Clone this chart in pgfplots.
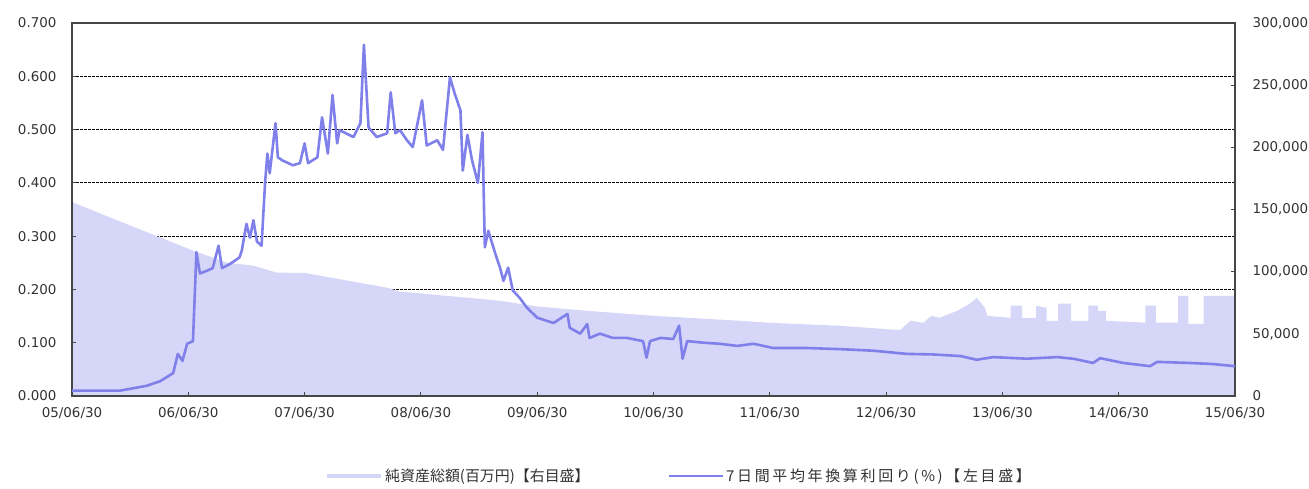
\documentclass[border=0pt]{standalone}
\usepackage{fontspec}
\setmainfont{DejaVu Sans}
\newfontfamily\jp{Noto Sans CJK JP}
\newfontfamily\jpw[LetterSpace=18]{Noto Sans CJK JP}
\usepackage{pgfplots}
\pgfplotsset{compat=1.18}

\definecolor{areaC}{RGB}{214,214,248}
\definecolor{lineC}{RGB}{128,128,234}
\definecolor{frameC}{RGB}{70,70,70}
\definecolor{txtC}{RGB}{50,50,50}

% net assets (million yen), right scale; x = years since 05/06/30
\pgfplotstableread{
x v
0.00 156000
0.33 143500
0.76 127400
1.04 117000
1.33 107300
1.56 104800
1.76 99200
2.00 99000
2.71 87100
2.82 84000
3.68 76600
4.00 72000
4.43 68500
5.00 64500
5.74 60500
6.00 58900
6.60 56500
7.12 53000
7.21 60500
7.32 58900
7.39 64500
7.46 62900
7.61 68500
7.72 74200
7.78 79000
7.85 71000
7.87 64500
8.07 62900
8.07 72600
8.17 72600
8.17 62900
8.29 62900
8.29 72600
8.38 71000
8.38 60500
8.48 60500
8.48 74200
8.59 74200
8.59 60500
8.74 60500
8.74 72600
8.82 72600
8.82 68500
8.89 68500
8.89 60500
9.23 59000
9.23 72600
9.32 72600
9.32 59000
9.51 59000
9.51 80600
9.60 80600
9.60 58000
9.73 58000
9.73 80600
10.00 80600
}\assets

% 7-day average annualised yield (%), left scale
\pgfplotstableread{
x y
0.00 0.010
0.41 0.010
0.64 0.019
0.76 0.028
0.87 0.043
0.91 0.079
0.95 0.066
0.99 0.098
1.04 0.103
1.07 0.270
1.10 0.230
1.16 0.235
1.21 0.240
1.26 0.282
1.29 0.240
1.36 0.248
1.44 0.260
1.46 0.273
1.50 0.323
1.53 0.297
1.56 0.330
1.59 0.290
1.63 0.282
1.66 0.400
1.68 0.455
1.70 0.418
1.75 0.512
1.77 0.448
1.81 0.442
1.90 0.433
1.96 0.437
2.00 0.474
2.03 0.437
2.11 0.448
2.15 0.523
2.20 0.455
2.24 0.565
2.28 0.474
2.30 0.499
2.42 0.486
2.48 0.512
2.51 0.659
2.55 0.504
2.62 0.486
2.71 0.493
2.74 0.570
2.78 0.493
2.82 0.499
2.88 0.480
2.93 0.467
3.01 0.555
3.05 0.470
3.14 0.480
3.19 0.462
3.25 0.598
3.29 0.568
3.34 0.536
3.36 0.423
3.40 0.490
3.44 0.442
3.49 0.400
3.53 0.495
3.54 0.380
3.55 0.279
3.58 0.310
3.64 0.267
3.68 0.241
3.71 0.216
3.75 0.241
3.79 0.198
3.85 0.184
3.91 0.166
4.00 0.147
4.14 0.137
4.26 0.154
4.28 0.128
4.37 0.117
4.43 0.135
4.45 0.109
4.54 0.117
4.65 0.109
4.77 0.109
4.91 0.103
4.94 0.072
4.97 0.103
5.06 0.109
5.17 0.107
5.22 0.132
5.25 0.070
5.29 0.103
5.43 0.100
5.57 0.098
5.72 0.094
5.86 0.098
6.03 0.090
6.32 0.090
6.60 0.088
6.89 0.085
7.18 0.079
7.40 0.078
7.64 0.075
7.78 0.068
7.92 0.073
8.21 0.070
8.47 0.073
8.61 0.070
8.78 0.062
8.84 0.071
9.04 0.062
9.27 0.056
9.33 0.064
9.61 0.062
9.81 0.060
10.00 0.056
}\yield

\pgfplotsset{
  base/.style={
    at={(0,0)}, anchor=south west,
    width=1163bp, height=373bp, scale only axis,
    xmin=0, xmax=10,
    tick align=inside, major tick length=4bp,
    tick style={frameC, line width=1bp},
    tick label style={font=\fontsize{13.5}{15}\selectfont, text=txtC},
  },
}

\begin{document}
\begin{tikzpicture}
% grid lines at the left scale's 0.1 steps, drawn first so the area covers them
\begin{axis}[base,
  ymin=0, ymax=0.7,
  ytick={0.1,0.2,0.3,0.4,0.5,0.6}, xtick=\empty,
  yticklabels={}, major tick length=0pt,
  axis line style={draw=none},
  ymajorgrids,
  grid style={black, line width=0.9bp, dash pattern=on 3bp off 1bp},
]
\end{axis}

% net assets, right scale
\begin{axis}[base,
  ymin=0, ymax=300000,
  axis y line*=right, axis x line=none,
  axis line style={draw=none},
  ytick={0,50000,100000,150000,200000,250000,300000},
  scaled y ticks=false,
  yticklabel style={/pgf/number format/fixed, /pgf/number format/1000 sep={,},
    /pgf/number format/assume math mode=true, anchor=west, xshift=14bp},
]
\addplot[draw=none, fill=areaC] table[x=x, y=v] {\assets} \closedcycle;
\end{axis}

% yield line, left scale, frame and legend
\begin{axis}[base,
  ymin=0, ymax=0.7,
  ytick={0,0.1,0.2,0.3,0.4,0.5,0.6,0.7},
  yticklabel style={/pgf/number format/fixed, /pgf/number format/fixed zerofill,
    /pgf/number format/precision=3, /pgf/number format/assume math mode=true, xshift=-12bp},
  ytick pos=left,
  xtick={0,1,2,3,4,5,6,7,8,9,10},
  xticklabels={05/06/30,06/06/30,07/06/30,08/06/30,09/06/30,10/06/30,11/06/30,12/06/30,13/06/30,14/06/30,15/06/30},
  xtick pos=bottom,
  xticklabel style={yshift=-8bp},
  axis line style={frameC, line width=1.3bp},
  legend columns=2,
  legend style={at={(0.5220,-0.214)}, anchor=center, draw=none, fill=none,
    font=\jp\fontsize{15}{17}\selectfont, text=txtC,
    /tikz/every even column/.append style={column sep=76bp}},
  legend image code/.code={\draw[#1] (0bp,0bp) -- (54bp,0bp);},
]
\addlegendimage{areaC, line width=4bp}
\addlegendentry{純資産総額(百万円)【右目盛】}
\addplot[lineC, line width=2.6bp, line join=round] table[x=x, y=y] {\yield};
\addlegendentry{\jpw 7日間平均年換算利回り(\%)【左目盛】}
\end{axis}

\pgfresetboundingbox
\path (-72bp,-93bp) rectangle (1237bp,396bp);
\end{tikzpicture}
\end{document}
